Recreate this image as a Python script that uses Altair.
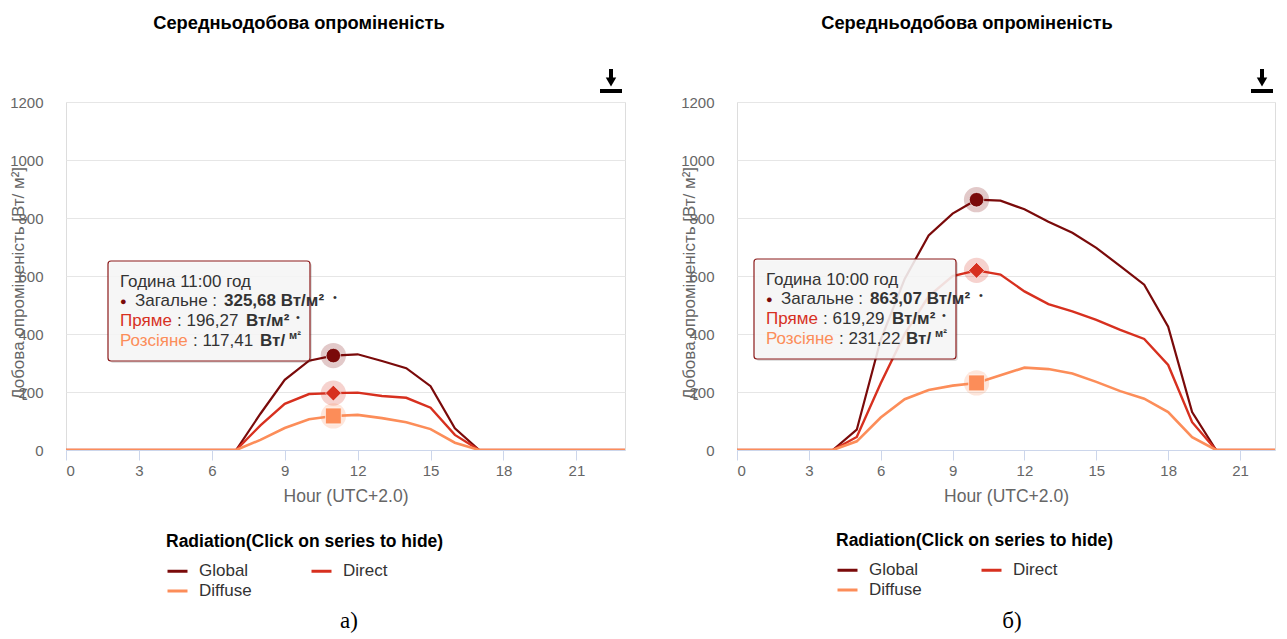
import altair as alt
import pandas as pd

hours = list(range(24))
series = ["Global", "Direct", "Diffuse"]
series_colors = ["#7a0a0a", "#d7301f", "#fc8d59"]
series_widths = [2.2, 2.6, 3.6]
marker_shapes = ["circle", "diamond", "square"]

# panel а)
global_a = [0, 0, 0, 0, 0, 0, 0, 0, 125, 242, 308, 325.68, 330, 307, 282, 220, 75, 0, 0, 0, 0, 0, 0, 0]
direct_a = [0, 0, 0, 0, 0, 0, 0, 0, 85, 159, 193, 196.27, 198, 186, 180, 146, 52, 0, 0, 0, 0, 0, 0, 0]
diffuse_a = [0, 0, 0, 0, 0, 0, 0, 0, 35, 76, 106, 117.41, 121, 110, 96, 72, 25, 0, 0, 0, 0, 0, 0, 0]
peak_a = 11
tip_a = ["11:00", "325,68", "196,27", "117,41"]

# panel б)
global_b = [0, 0, 0, 0, 0, 70, 380, 590, 740, 815, 863.07, 860, 830, 787, 749, 697, 634, 570, 425, 131, 0, 0, 0, 0]
direct_b = [0, 0, 0, 0, 0, 45, 230, 400, 530, 600, 619.29, 605, 547, 503, 478, 449, 414, 383, 293, 96, 0, 0, 0, 0]
diffuse_b = [0, 0, 0, 0, 0, 30, 112, 175, 207, 222, 231.22, 258, 284, 279, 264, 235, 203, 177, 131, 44, 0, 0, 0, 0]
peak_b = 10
tip_b = ["10:00", "863,07", "619,29", "231,22"]

x_ticks = [0, 3, 6, 9, 12, 15, 18, 21]
y_ticks = [0, 200, 400, 600, 800, 1000, 1200]

chart_title = "Середньодобова опроміненість"
x_title = "Hour (UTC+2.0)"
y_title = "Добова опроміненість [Вт/ м²]"
legend_title = "Radiation(Click on series to hide)"

FONT = "Liberation Sans"
GRAY = "#666666"
DARK = "#333333"
H = 348


def one_row():
    return alt.Chart(pd.DataFrame({"a": [0]}))


def text_mark(txt, x, y, size=15, weight="normal", color=DARK, font=FONT, align="left",
              baseline="alphabetic", dy=0):
    return one_row().mark_text(text=txt, font=font, fontSize=size, fontWeight=weight, color=color,
                               align=align, baseline=baseline, dy=dy).encode(
        x=alt.value(x), y=alt.value(y))


def panel(g, d, f, peak, tip, width, xmax, title_x, box_x, box_y, legend_x, legend_y,
          caption, caption_x, icon_x, anchor=False):
    rows = []
    for name, vals in zip(series, [g, d, f]):
        for h, v in zip(hours, vals):
            rows.append({"hour": h, "value": v, "series": name})
    df = pd.DataFrame(rows)

    xs = alt.Scale(domain=[0, xmax], nice=False, zero=False)
    ys = alt.Scale(domain=[0, 1200], nice=False)

    x_enc = alt.X("hour:Q", scale=xs, axis=alt.Axis(
        values=x_ticks, grid=False, domainColor="#ccd6eb", tickColor="#ccd6eb", tickSize=10,
        labelColor=GRAY, labelFontSize=15, labelFont=FONT, labelPadding=3, format="d",
        title=x_title, titleColor=GRAY, titleFontSize=17.5, titleFont=FONT,
        titleFontWeight="normal", titlePadding=9))
    y_enc = alt.Y("value:Q", scale=ys, axis=alt.Axis(
        values=y_ticks, grid=True, gridColor="#e6e6e6", domain=False, ticks=False, format="d",
        labelColor=GRAY, labelFontSize=15, labelFont=FONT, labelPadding=23,
        title=y_title, titleColor=GRAY, titleFontSize=17, titleFont=FONT,
        titleFontWeight="normal", titleX=-48, titleY=181, titleAlign="center",
        titleBaseline="middle"))

    lines = alt.Chart(df).mark_line(clip=True).encode(
        x=x_enc, y=y_enc,
        color=alt.Color("series:N", sort=series,
                        scale=alt.Scale(domain=series, range=series_colors),
                        legend=alt.Legend(
                            title=legend_title, orient="none", legendX=legend_x, legendY=legend_y,
                            direction="horizontal",
                            columns=2, columnPadding=53, rowPadding=0, titlePadding=9,
                            titleFont=FONT, titleFontSize=17.5, titleFontWeight="bold",
                            titleColor="#000000", titleLimit=400,
                            labelFont=FONT, labelFontSize=17, labelColor=DARK, labelOffset=10,
                            symbolType="stroke", symbolStrokeWidth=3, symbolSize=400)),
        strokeWidth=alt.StrokeWidth("series:N",
                                    scale=alt.Scale(domain=series, range=series_widths),
                                    legend=None),
    )

    layers = [lines]
    for name, col, shp, vals in zip(series, series_colors, marker_shapes, [g, d, f]):
        pdf = pd.DataFrame({"hour": [peak], "value": [vals[peak]]})
        halo = alt.Chart(pdf).mark_point(filled=True, shape="circle", color=col, opacity=0.22,
                                         size=640).encode(
            x=alt.X("hour:Q", scale=xs), y=alt.Y("value:Q", scale=ys))
        mk = alt.Chart(pdf).mark_point(filled=True, shape=shp, color=col, opacity=1,
                                       size={"circle": 210, "diamond": 250, "square": 250}[shp],
                                       stroke="white", strokeWidth=0.6).encode(
            x=alt.X("hour:Q", scale=xs), y=alt.Y("value:Q", scale=ys))
        layers += [halo, mk]

    # tooltip box
    bw, bh = 202, 100
    layers.append(one_row().mark_rect(color="#000000", opacity=0.12, cornerRadius=3).encode(
        x=alt.value(box_x + 2), x2=alt.value(box_x + bw + 2),
        y=alt.value(box_y + 2), y2=alt.value(box_y + bh + 2)))
    layers.append(one_row().mark_rect(fill="#f8f8f8", fillOpacity=0.88, stroke="#8b1a1a",
                                      strokeWidth=1.2, cornerRadius=3).encode(
        x=alt.value(box_x), x2=alt.value(box_x + bw),
        y=alt.value(box_y), y2=alt.value(box_y + bh)))
    segs = [
        ("Година " + tip[0] + " год", 12, 26, 17, "normal", DARK, 0),
        ("●", 12, 45, 11, "normal", series_colors[0], -1),
        ("Загальне :", 27, 45, 17, "normal", DARK, 0),
        (tip[1] + " Вт/м²", 116, 45, 17, "bold", DARK, 0),
        ("•", 225, 45, 11, "normal", DARK, -5),
        ("Пряме", 12, 65, 17, "normal", series_colors[1], 0),
        (": " + tip[2], 69, 65, 17, "normal", DARK, 0),
        ("Вт/м²", 138, 65, 17, "bold", DARK, 0),
        ("•", 188, 65, 11, "normal", DARK, -5),
        ("Розсіяне", 12, 85, 17, "normal", series_colors[2], 0),
        (": " + tip[3], 85, 85, 17, "normal", DARK, 0),
        ("Вт/", 152, 85, 17, "bold", DARK, 0),
        ("м²", 181, 85, 11, "bold", DARK, -7),
    ]
    for t, dx, dyb, sz, wt, col, dy in segs:
        layers.append(text_mark(t, box_x + dx, box_y + dyb, size=sz, weight=wt, color=col, dy=dy))

    # chart title
    layers.append(text_mark(chart_title, title_x, -78, size=18.3, weight="bold", color="#000000",
                            align="center", baseline="middle"))
    # caption
    layers.append(text_mark(caption, caption_x, 519, size=23, color="#000000",
                            font="Liberation Serif", align="center", baseline="middle"))
    # download icon
    layers.append(one_row().mark_rule(color="#000000", strokeWidth=4).encode(
        x=alt.value(icon_x), y=alt.value(-33), y2=alt.value(-23)))
    layers.append(one_row().mark_point(shape="triangle-down", filled=True, color="#000000",
                                       opacity=1, size=110).encode(
        x=alt.value(icon_x), y=alt.value(-20)))
    layers.append(one_row().mark_rule(color="#000000", strokeWidth=4).encode(
        x=alt.value(icon_x - 11), x2=alt.value(icon_x + 11), y=alt.value(-11)))

    if anchor:
        # invisible layout anchor fixing the top-left extent of the drawing
        layers.append(one_row().mark_rule(strokeOpacity=0, strokeWidth=0.1).encode(
            x=alt.value(-57), y=alt.value(-93), y2=alt.value(-92)))

    return alt.layer(*layers).properties(width=width, height=H)


left = panel(global_a, direct_a, diffuse_a, peak_a, tip_a, 559, 23, 233, 42, 159, 100, 431,
             "а)", 283, 545, anchor=True)
right = panel(global_b, direct_b, diffuse_b, peak_b, tip_b, 538, 22.46, 230, 17, 157, 99, 430,
              "б)", 275, 525)

chart = alt.hconcat(left, right, spacing=112).properties(
    bounds="flush", padding={"left": 0, "top": 0, "right": 0, "bottom": 0}
).resolve_legend(color="independent").resolve_scale(color="independent").configure_view(
    strokeWidth=0).configure(background="white")

chart.save("out.html", embed_options={"renderer": "svg", "actions": False})
